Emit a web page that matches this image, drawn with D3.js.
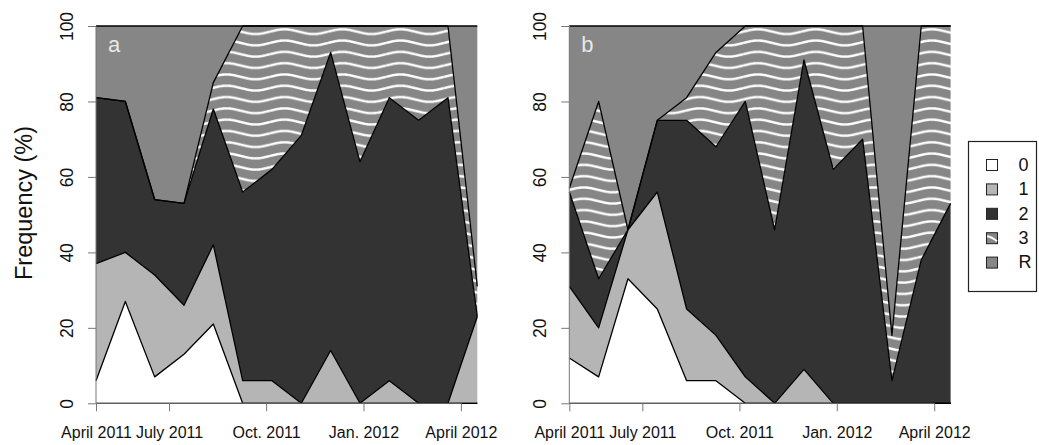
<!DOCTYPE html>
<html>
<head>
<meta charset="utf-8">
<script src="https://cdn.jsdelivr.net/npm/d3@7"></script>
<style>
body { margin: 0; background: #fff; }
text { font-family: "Liberation Sans", Arial, Helvetica, sans-serif; }
</style>
</head>
<body>
<svg id="chart" width="1039" height="445"></svg>
<script>
// classes, bottom to top of the stack
const classes = ["0", "1", "2", "3", "R"];
// sampling occasions (index along x)
const samples = [0, 1, 2, 3, 4, 5, 6, 7, 8, 9, 10, 11, 12, 13];
// month labels and where they fall on the sample index
const tickLabels = ["April 2011", "July 2011", "Oct. 2011", "Jan. 2012", "April 2012"];
const tickPos = [0, 2.49, 5.8, 9.12, 12.44];
const yTicks = [0, 20, 40, 60, 80, 100];

// panel a, frequency (%) per class
const a0 = [6, 27, 7, 13, 21, 0, 0, 0, 0, 0, 0, 0, 0, 0];
const a1 = [31, 13, 27, 13, 21, 6, 6, 0, 14, 0, 6, 0, 0, 23];
const a2 = [44, 40, 20, 27, 36, 50, 56, 71, 79, 64, 75, 75, 81, 0];
const a3 = [0, 0, 0, 0, 7, 44, 38, 29, 7, 36, 19, 25, 19, 8];
const aR = [19, 20, 46, 47, 15, 0, 0, 0, 0, 0, 0, 0, 0, 69];

// panel b
const b0 = [12, 7, 33, 25, 6, 6, 0, 0, 0, 0, 0, 0, 0, 0];
const b1 = [19, 13, 13, 31, 19, 12, 7, 0, 9, 0, 0, 0, 0, 0];
const b2 = [25, 13, 0, 19, 50, 50, 73, 46, 82, 62, 70, 6, 38, 53];
const b3 = [1, 47, 0, 0, 6, 25, 20, 54, 9, 38, 30, 12, 62, 47];
const bR = [43, 20, 54, 25, 19, 7, 0, 0, 0, 0, 0, 82, 0, 0];

const fills = {"0": "#ffffff", "1": "#b5b5b5", "2": "#333333", "3": "url(#wave)", "R": "#868686"};

const svg = d3.select("#chart");
const plotW = 381.3, plotH = 377.3, plotTop = 26;

// wavy white lines on grey for class 3
const waveW = 58, waveH = 11.3, waveA = 2.4;
const defs = svg.append("defs");
const pat = defs.append("pattern").attr("id", "wave")
    .attr("patternUnits", "userSpaceOnUse")
    .attr("width", waveW).attr("height", waveH);
pat.append("rect").attr("width", waveW).attr("height", waveH).attr("fill", "#868686");
var wpts = [];
for (var i = 0; i <= waveW; i++) wpts.push([i, waveH / 2 - waveA * Math.sin(2 * Math.PI * i / waveW)]);
pat.append("path").attr("d", d3.line()(wpts))
    .attr("fill", "none").attr("stroke", "#fff").attr("stroke-width", 2.4);

const x = d3.scaleLinear().domain([0, 13]).range([0, plotW]);
const y = d3.scaleLinear().domain([0, 100]).range([plotH, 0]);

const stack = d3.stack().keys(classes);
const area = d3.area().x(d => x(d.data.idx)).y0(d => y(d[0])).y1(d => y(d[1]));
const edge = d3.line().x(d => x(d[0])).y(d => y(d[1]));

function drawPanel(left, letter, cols) {
    var rows = samples.map((s, i) => {
        var r = {idx: s};
        classes.forEach((c, k) => r[c] = cols[k][i]);
        return r;
    });
    var series = stack(rows);
    var g = svg.append("g").attr("transform", "translate(" + left + "," + plotTop + ")");

    g.selectAll("path.layer").data(series).enter().append("path")
        .attr("class", "layer")
        .attr("d", area)
        .attr("fill", d => fills[d.key])
        .attr("stroke", "none");

    // outlines of each layer boundary
    var bounds = [series[0].map(d => [d.data.idx, d[0]])]
        .concat(series.map(s => s.map(d => [d.data.idx, d[1]])));
    g.selectAll("path.edge").data(bounds).enter().append("path")
        .attr("class", "edge")
        .attr("d", edge)
        .attr("fill", "none").attr("stroke", "#000").attr("stroke-width", 1.3)
        .attr("stroke-linejoin", "round");

    // y axis
    var ya = g.append("g").call(d3.axisLeft(y).tickValues(yTicks).tickSize(8).tickPadding(10));
    ya.select(".domain").attr("stroke", "#777").attr("d", "M0," + y(0) + "V" + y(100));
    ya.selectAll(".tick line").attr("stroke", "#777");
    ya.selectAll(".tick text")
        .attr("font-size", 17.5).attr("fill", "#111")
        .attr("transform", "rotate(-90)")
        .attr("x", 0).attr("y", -23).attr("dy", 0)
        .attr("text-anchor", "middle");

    // x axis
    var xa = g.append("g").attr("transform", "translate(0," + plotH + ")")
        .call(d3.axisBottom(x).tickValues(tickPos).tickFormat((d, i) => tickLabels[i]).tickSize(8).tickPadding(15));
    xa.select(".domain").attr("stroke", "#777").attr("d", "M" + x(tickPos[0]) + ",0H" + x(tickPos[4]));
    xa.selectAll(".tick line").attr("stroke", "#777");
    xa.selectAll(".tick text").attr("font-size", 16).attr("fill", "#111");

    g.append("text").attr("x", 12).attr("y", 26)
        .attr("font-size", 22).attr("fill", "#e8e8e8").text(letter);
}

drawPanel(96, "a", [a0, a1, a2, a3, aR]);
drawPanel(569.3, "b", [b0, b1, b2, b3, bR]);

svg.append("text")
    .attr("transform", "translate(32,203) rotate(-90)")
    .attr("text-anchor", "middle")
    .attr("font-size", 23.5).attr("fill", "#111")
    .text("Frequency (%)");

// legend
const lg = svg.append("g").attr("transform", "translate(968.5,141.5)");
lg.append("rect").attr("width", 68).attr("height", 150)
    .attr("fill", "#fff").attr("stroke", "#222").attr("stroke-width", 1.2);
classes.forEach((c, i) => {
    var row = lg.append("g").attr("transform", "translate(18," + (23 + i * 24.4) + ")");
    row.append("rect").attr("x", 0).attr("y", -5).attr("width", 11).attr("height", 11)
        .attr("fill", c == "3" ? "#868686" : fills[c]).attr("stroke", "#222").attr("stroke-width", 1);
    if (c == "3") {
        row.append("path").attr("d", "M0.5,-1.5 Q5,-1 10.5,3.5")
            .attr("fill", "none").attr("stroke", "#fff").attr("stroke-width", 2);
    }
    row.append("text").attr("x", 32).attr("y", 0).attr("dy", "0.35em")
        .attr("font-size", 18).attr("fill", "#111").text(c);
});
</script>
</body>
</html>
